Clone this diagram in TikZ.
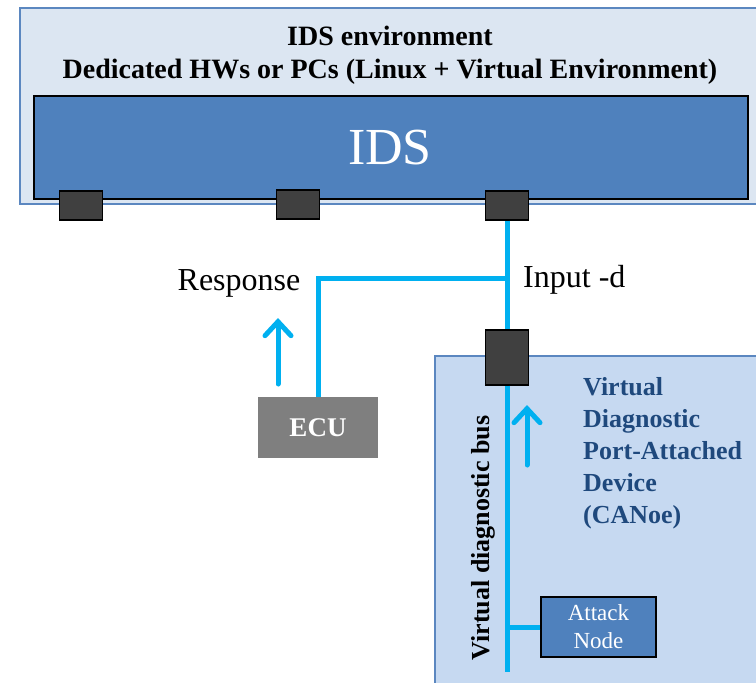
\documentclass[tikz,border=0pt]{standalone}
\usepackage{fontspec}
\setmainfont{Liberation Serif}
\usetikzlibrary{arrows.meta}
\definecolor{envfill}{HTML}{DCE6F2}
\definecolor{envline}{HTML}{5B87C0}
\definecolor{idsfill}{HTML}{4F81BD}
\definecolor{portfill}{HTML}{404040}
\definecolor{wire}{HTML}{00B0F0}
\definecolor{devfill}{HTML}{C6D9F1}
\definecolor{ecufill}{HTML}{7F7F7F}
\definecolor{devtext}{HTML}{1F497D}
\tikzset{
  envbox/.style={draw=envline, line width=1.6pt, fill=envfill, anchor=north west, inner sep=0pt},
  idsbox/.style={draw=black, line width=1.6pt, fill=idsfill, anchor=north west, inner sep=0pt},
  port/.style={draw=black, line width=1.4pt, fill=portfill, minimum width=43pt, minimum height=29pt, inner sep=0pt},
  wireline/.style={draw=wire, line width=5pt},
  flow/.style={draw=wire, line width=5pt, line cap=round,
    -{Straight Barb[length=14pt,width=26pt,line cap=round]}},
  lbl/.style={inner sep=0pt, anchor=base, font=\fontsize{32}{36}\selectfont},
  title/.style={inner sep=0pt, anchor=base, font=\bfseries\fontsize{28}{30}\selectfont},
}
\begin{document}
\begin{tikzpicture}[x=1pt,y=-1pt]
\useasboundingbox (0,0) rectangle (756,683);
% IDS environment frame
\node[envbox, minimum width=745pt, minimum height=196pt] (env) at (19,7) {};
\node[title] (t1) at (390,45) {IDS environment};
\node[title] (t2) at (390,78) {Dedicated HWs or PCs (Linux + Virtual Environment)};
% IDS block
\node[idsbox, minimum width=714pt, minimum height=103pt] (ids) at (33,95) {};
\node[text=white, inner sep=0pt, font=\fontsize{52}{56}\selectfont] (idslabel) at (390,148) {IDS};
% ports
\node[port] (p1) at (81,205.5) {};
\node[port] (p2) at (298,204.5) {};
\node[port] (p3) at (507,205.5) {};
% CANoe device frame
\node[draw=envline, line width=1.8pt, fill=devfill, anchor=north west, inner sep=0pt,
      minimum width=340pt, minimum height=345pt] (dev) at (434,355) {};
% ECU
\node[fill=ecufill, minimum width=120pt, minimum height=61pt, inner sep=0pt,
      text=white, font=\bfseries\fontsize{27}{30}\selectfont] (ecu) at (318,427.5) {ECU};
% diagnostic port
\node[draw=black, line width=1.4pt, fill=portfill, minimum width=43pt, minimum height=55pt, inner sep=0pt] (dport) at (507,357.5) {};
% attack node
\node[draw=black, line width=1.4pt, fill=idsfill, minimum width=115pt, minimum height=60pt, inner sep=0pt,
      text=white, align=center, font=\fontsize{23}{28}\selectfont] (attack) at (598.5,627) {Attack\\Node};
% labels
\node[lbl] (resp) at (239,290) {Response};
\node[lbl, anchor=base west] (input) at (523,287) {Input -d};
\node[inner sep=0pt, anchor=north west, align=left, text=devtext,
      font=\bfseries\fontsize{26}{32}\selectfont] (devlabel) at (583,377)
      {Virtual\\Diagnostic\\Port-Attached\\Device\\(CANoe)};
\node[inner sep=0pt, rotate=90, font=\bfseries\fontsize{26}{30}\selectfont] (buslabel) at (483,538) {Virtual diagnostic bus};
% wiring
\coordinate (j) at (507,278);
\coordinate (busend) at (507,672);
\coordinate (ra) at (278,384);
\coordinate (rb) at (278,318);
\coordinate (ua) at (527,465);
\coordinate (ub) at (527,405);
\draw[wireline] (p3.south) -- (dport.north);
\draw[wireline] (ecu.north) |- (j);
\draw[wireline] (dport.south) -- (busend);
\draw[wireline] (attack.west) -- (attack.west -| busend);
\draw[flow] (ra) -- (rb);
\draw[flow] (ua) -- (ub);
\end{tikzpicture}
\end{document}
